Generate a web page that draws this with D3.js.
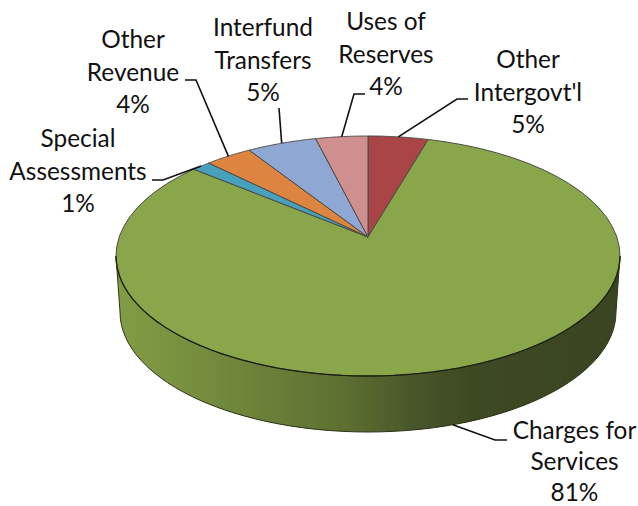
<!DOCTYPE html>
<html>
<head>
<meta charset="utf-8">
<script src="https://cdn.jsdelivr.net/npm/d3@7/dist/d3.min.js"></script>
<style>
html,body{margin:0;padding:0;background:#fff;overflow:hidden}
svg{display:block}
text{font-family:Lato,"Open Sans",sans-serif;fill:#111}
</style>
</head>
<body>
<svg id="chart" width="638" height="506"></svg>
<script>
// Data
const categories = ["Other Intergovt'l", "Charges for Services", "Special Assessments", "Other Revenue", "Interfund Transfers", "Uses of Reserves"];
const values = [4.5, 81.5, 1.4, 3.5, 5.2, 3.9];
const percentLabels = ["5%", "81%", "1%", "4%", "5%", "4%"];
const colors = ["#a94546", "#8aa64c", "#46a0bc", "#dd8540", "#8fa8d3", "#cf8f8f"];
const labelLines = [["Other", "Intergovt'l"], ["Charges for", "Services"], ["Special", "Assessments"], ["Other", "Revenue"], ["Interfund", "Transfers"], ["Uses of", "Reserves"]];

// Layout of the perspective pie
const upperE = {cx: 368, cy: 256, rx: 252, ry: 120};
const lowerE = {cx: 368, cy: 312, rx: 248, ry: 120};
const tilt = 0.158; // image of the pie centre above the ellipse centre (in radii)
const labelPos = [
  {x: 528, y: 68, step: 32.5, elbow: [[468, 99], [457, 99]]},
  {x: 574.5, y: 438.5, step: 31, elbow: [[507, 440], [495, 440]], onWall: true},
  {x: 78, y: 147, step: 32.5, elbow: [[152, 180], [163, 180]]},
  {x: 133, y: 48, step: 32.5, elbow: [[185, 80], [196, 80]]},
  {x: 263, y: 36, step: 32.5, elbow: [[279, 108]]},
  {x: 386, y: 30, step: 32.5, elbow: [[365, 94], [354, 94]]}
];
const fontSize = 24.4;

function project(theta, e = upperE) {
  const u = Math.sin(theta), v = Math.cos(theta), d = 1 + tilt * v;
  return [e.cx + e.rx * u * Math.sqrt(1 - tilt * tilt) / d,
          e.cy - e.ry * (v + tilt) / d];
}
const apex = [upperE.cx, upperE.cy - upperE.ry * tilt];
const line = d3.line();
const samples = (a, b) => d3.range(0, 61).map(i => a + (b - a) * i / 60);

const svg = d3.select("#chart");
const defs = svg.append("defs");
const soft = defs.append("filter").attr("id", "soft");
soft.append("feGaussianBlur").attr("stdDeviation", 0.45);
const grad = defs.append("linearGradient").attr("id", "wall")
  .attr("gradientUnits", "userSpaceOnUse")
  .attr("x1", upperE.cx - upperE.rx).attr("x2", upperE.cx + upperE.rx).attr("y1", 0).attr("y2", 0);
[[0, "#829d45"], [0.18, "#748c3d"], [0.45, "#5d7031"], [0.6, "#47552a"], [0.72, "#3d4822"], [1, "#3a4420"]]
  .forEach(([o, c]) => grad.append("stop").attr("offset", o).attr("stop-color", c));

const pie = d3.pie().sort(null).startAngle(0).endAngle(2 * Math.PI);
const arcs = pie(values);
const g = svg.append("g").attr("filter", "url(#soft)");

// Side wall
const frontAngles = samples(Math.PI * 0.5, Math.PI * 1.5);
const wallPts = frontAngles.map(a => [upperE.cx + upperE.rx * Math.sin(a), upperE.cy - upperE.ry * Math.cos(a)])
  .concat(frontAngles.slice().reverse().map(a => [lowerE.cx + lowerE.rx * Math.sin(a), lowerE.cy - lowerE.ry * Math.cos(a)]));
g.append("path").attr("d", line(wallPts) + "Z")
  .attr("fill", "url(#wall)").attr("stroke", "#2c3318").attr("stroke-width", 1);

// Top face slices
g.selectAll("path.slice").data(arcs).join("path").attr("class", "slice")
  .attr("d", d => line([apex].concat(samples(d.startAngle, d.endAngle).map(a => project(a)))) + "Z")
  .attr("fill", (d, i) => colors[i])
  .attr("stroke", "#4a4a44").attr("stroke-width", 1).attr("stroke-linejoin", "round");

// Dark front rim of the top face
g.append("path")
  .attr("d", line(frontAngles.map(a => [upperE.cx + upperE.rx * Math.sin(a), upperE.cy - upperE.ry * Math.cos(a)])))
  .attr("fill", "none").attr("stroke", "#1d2410").attr("stroke-width", 1.3);

// Leader lines
svg.selectAll("path.leader").data(arcs).join("path").attr("class", "leader")
  .attr("d", (d, i) => {
    const mid = (d.startAngle + d.endAngle) / 2;
    const p = labelPos[i];
    return line(p.elbow.concat([project(mid, p.onWall ? lowerE : upperE)]));
  })
  .attr("fill", "none").attr("stroke", "#111").attr("stroke-width", 1.6);

// Labels
const labels = svg.selectAll("text.label").data(arcs).join("text").attr("class", "label")
  .attr("text-anchor", "middle").attr("font-size", fontSize);
labels.selectAll("tspan").data((d, i) => labelLines[i].concat(percentLabels[i]).map(t => ({t, i}))).join("tspan")
  .attr("x", d => labelPos[d.i].x)
  .attr("y", (d, j) => labelPos[d.i].y + j * labelPos[d.i].step)
  .text(d => d.t);
</script>
</body>
</html>
